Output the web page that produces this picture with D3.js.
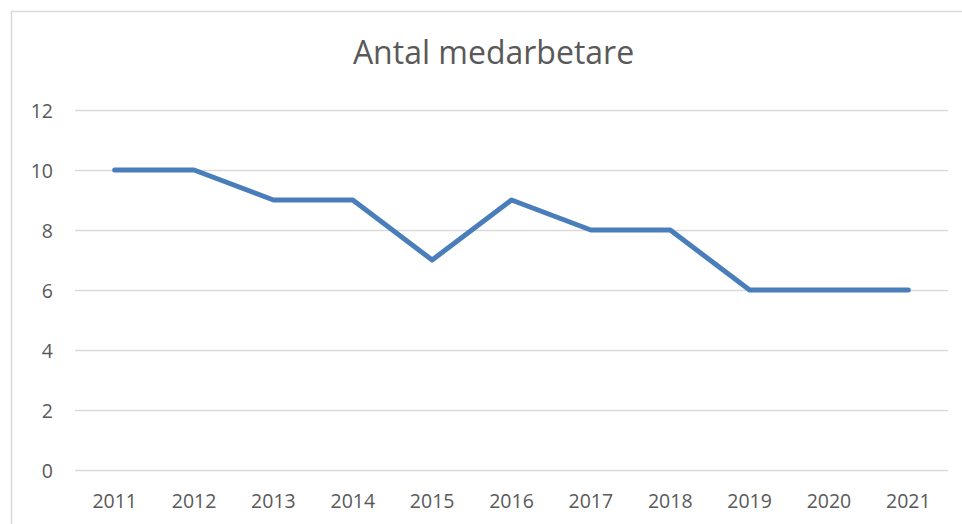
<!DOCTYPE html>
<html>
<head>
<meta charset="utf-8">
<title>Antal medarbetare</title>
<style type="text/css">
body {
  margin: 0;
  background: #fff;
}
#chart text {
  font-family: "Open Sans", sans-serif;
  fill: #595959;
}
.grid line {
  stroke: #d9d9d9;
  stroke-width: 1.3px;
}
.line {
  fill: none;
  stroke: #4a7ebb;
  stroke-width: 5px;
  stroke-linejoin: round;
  stroke-linecap: round;
}
</style>
</head>
<body>
<div id="chart"></div>
<script src="https://d3js.org/d3.v7.min.js"></script>
<script type="text/javascript">

// chart data
var title = "Antal medarbetare";
var years = ["2011", "2012", "2013", "2014", "2015", "2016", "2017", "2018", "2019", "2020", "2021"];
var employees = [10, 10, 9, 9, 7, 9, 8, 8, 6, 6, 6];
var yTicks = [0, 2, 4, 6, 8, 10, 12];

var width = 962,
    height = 524;

// plot area (pixels)
var plot = {left: 75, right: 948, top: 110, bottom: 470};

var svg = d3.select("#chart")
  .append("svg")
  .attr("width", width)
  .attr("height", height);

// chart border (runs off the right and bottom edge)
svg.append("rect")
  .attr("x", 11.5)
  .attr("y", 11.5)
  .attr("width", width + 20)
  .attr("height", height + 20)
  .attr("fill", "none")
  .attr("stroke", "#d9d9d9")
  .attr("stroke-width", 1.5);

var x = d3.scaleBand()
  .domain(years)
  .range([plot.left, plot.right]);

var y = d3.scaleLinear()
  .domain([0, 12])
  .range([plot.bottom, plot.top]);

// horizontal gridlines
svg.append("g")
  .attr("class", "grid")
  .selectAll("line")
  .data(yTicks)
  .enter()
  .append("line")
  .attr("x1", plot.left)
  .attr("x2", plot.right)
  .attr("y1", function(d) { return Math.round(y(d)) + 0.5; })
  .attr("y2", function(d) { return Math.round(y(d)) + 0.5; });

// y axis labels
var yAxis = d3.axisLeft(y).tickValues(yTicks).tickSize(0).tickPadding(0);
svg.append("g")
  .attr("transform", "translate(53,0)")
  .call(yAxis)
  .call(function(g) { g.select(".domain").remove(); })
  .selectAll("text")
  .attr("font-size", "19.5px")
  .attr("dy", "0.36em");

// x axis labels
var xAxis = d3.axisBottom(x).tickSize(0).tickPadding(0);
svg.append("g")
  .attr("transform", "translate(0," + plot.bottom + ")")
  .call(xAxis)
  .call(function(g) { g.select(".domain").remove(); })
  .selectAll("text")
  .attr("font-size", "19.5px")
  .attr("y", 38)
  .attr("dy", 0);

// the line
var line = d3.line()
  .x(function(d, i) { return x(years[i]) + x.bandwidth() / 2; })
  .y(function(d) { return y(d); });

svg.append("path")
  .datum(employees)
  .attr("class", "line")
  .attr("d", line);

// title
svg.append("text")
  .attr("x", 493.5)
  .attr("y", 64)
  .attr("text-anchor", "middle")
  .attr("font-size", "32px")
  .text(title);

</script>
</body>
</html>
